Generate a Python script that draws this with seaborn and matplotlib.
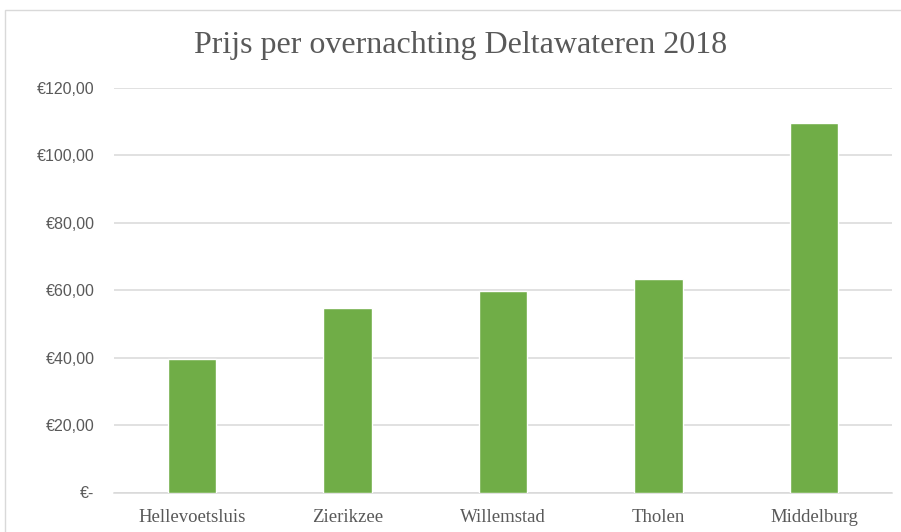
import matplotlib
matplotlib.use("Agg")
import matplotlib.pyplot as plt
import seaborn as sns
import pandas as pd
from matplotlib.patches import Rectangle

categories = ["Hellevoetsluis", "Zierikzee", "Willemstad", "Tholen", "Middelburg"]
values = [39.5, 54.8, 59.6, 63.2, 109.4]
yticks = [0, 20, 40, 60, 80, 100, 120]
ytick_labels = ["€-", "€20,00", "€40,00", "€60,00", "€80,00", "€100,00", "€120,00"]
title = "Prijs per overnachting Deltawateren 2018"

df = pd.DataFrame({"plaats": categories, "prijs": values})

sns.set_theme(style="white")
plt.rcParams["font.family"] = ["Liberation Sans", "DejaVu Sans"]

fig = plt.figure(figsize=(9.01, 5.32), dpi=100)
ax = fig.add_axes([114 / 901, 1 - 492.5 / 532, (892 - 114) / 901, (492.5 - 87.7) / 532])

sns.barplot(data=df, x="plaats", y="prijs", color="#70AD47", saturation=1,
            width=0.31, ax=ax, zorder=3)

ax.set_ylim(0, 120)
ax.set_xlim(-0.5, 4.5)
ax.set_yticks(yticks)
ax.set_yticklabels(ytick_labels, fontsize=11.5, color="#595959")
ax.yaxis.grid(True, color="#D9D9D9", linewidth=1.1, zorder=0)
ax.xaxis.grid(False)
ax.set_axisbelow(True)
for s in ["top", "right", "left"]:
    ax.spines[s].set_visible(False)
ax.spines["bottom"].set_color("#D9D9D9")
ax.spines["bottom"].set_linewidth(1.1)
ax.tick_params(axis="y", length=0, pad=14)
ax.tick_params(axis="x", length=0, pad=12)
for lbl in ax.get_xticklabels():
    lbl.set_family(["Liberation Serif", "DejaVu Serif"])
    lbl.set_fontsize(13.5)
    lbl.set_color("#595959")
ax.set_xlabel("")
ax.set_ylabel("")

fig.text(461 / 901, 1 - 46 / 532, title, ha="center", va="center",
         fontsize=23, color="#595959", family=["Liberation Serif", "DejaVu Serif"])

# chart area border
fig.patches.append(Rectangle((5 / 901, -0.05), 1.0, 1 - 10 / 532 + 0.05,
                             transform=fig.transFigure, fill=False,
                             edgecolor="#D9D9D9", linewidth=1.0))

fig.savefig("out.png", dpi=100, facecolor="white")
